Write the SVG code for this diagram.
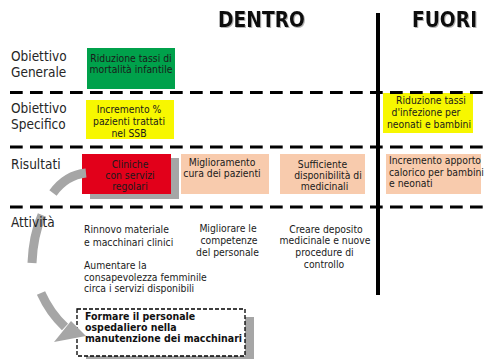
<svg xmlns="http://www.w3.org/2000/svg" width="485" height="359" viewBox="0 0 485 359">
<style>
text{font-family:'DejaVu Sans Condensed','DejaVu Sans',sans-serif;font-stretch:condensed;fill:#1a1a1a}
.t{font-size:10.3px}
.c{text-anchor:middle}
.lbl{font-size:13.5px;fill:#262626}
.hd{font-size:20.8px;font-weight:bold;fill:#111;text-anchor:middle}
.b{font-size:10.5px;font-weight:bold;fill:#111}
.dash{stroke:#000;stroke-width:3;stroke-dasharray:12.7 7.3;fill:none}
.shadow{fill:#a6a6a6}
.arc{fill:none;stroke:#a6a6a6;stroke-width:9}
.peach{fill:#f8cbad}
.yellow{fill:#f7f700}
</style>
<defs>
<filter id="ts" x="-10%" y="-20%" width="130%" height="150%">
<feDropShadow dx="1" dy="1" stdDeviation="0.6" flood-color="#808080" flood-opacity="0.6"/>
</filter>
</defs>
<rect width="485" height="359" fill="#fff"/>

<g id="headers" filter="url(#ts)">
<text class="hd" x="261.5" y="27">DENTRO</text>
<text class="hd" x="444.5" y="27">FUORI</text>
</g>

<g id="node-obiettivo-generale">
<rect x="87" y="48" width="88" height="41" fill="#00a14b"/>
<text class="t c" x="131" y="61.5">Riduzione tassi di</text>
<text class="t c" x="131" y="73">mortalità infantile</text>
</g>

<g id="node-obiettivo-specifico">
<rect class="yellow" x="86" y="100" width="88" height="39"/>
<text class="t c" x="129" y="113">Incremento %</text>
<text class="t c" x="129" y="124.8">pazienti trattati</text>
<text class="t c" x="129" y="136.6">nel SSB</text>
</g>

<g id="node-fuori-specifico">
<rect class="yellow" x="383" y="93" width="90" height="40"/>
<text class="t c" x="431" y="104.3">Riduzione tassi</text>
<text class="t c" x="426" y="116">d'infezione per</text>
<text class="t c" x="429" y="128.3">neonati e bambini</text>
</g>

<g id="node-cliniche">
<rect class="shadow" x="90" y="158" width="89" height="41"/>
<rect x="82" y="154" width="89" height="40" fill="#e2001a"/>
<text class="t c" x="130" y="168.3">Cliniche</text>
<text class="t c" x="130" y="179.3">con servizi</text>
<text class="t c" x="130" y="190.3">regolari</text>
</g>

<g id="node-miglioramento">
<rect class="peach" x="181" y="154" width="88" height="40"/>
<text class="t c" x="222" y="165.7">Miglioramento</text>
<text class="t c" x="222" y="177.3">cura dei pazienti</text>
</g>

<g id="node-sufficiente">
<rect class="peach" x="280" y="154" width="85" height="40"/>
<text class="t c" x="322.5" y="167.7">Sufficiente</text>
<text class="t c" x="328" y="179">disponibilità di</text>
<text class="t c" x="324.5" y="190.3">medicinali</text>
</g>

<g id="node-apporto">
<rect class="peach" x="386" y="154" width="95" height="40"/>
<text class="t" x="389" y="164.3">Incremento apporto</text>
<text class="t" x="389" y="175.7">calorico per bambini</text>
<text class="t" x="389" y="187.3">e neonati</text>
</g>

<g id="grid">
<line class="dash" x1="10" y1="92.5" x2="485" y2="92.5"/>
<line class="dash" x1="10" y1="147" x2="485" y2="147"/>
<line class="dash" x1="10" y1="207" x2="485" y2="207"/>
<rect x="376" y="13" width="4" height="282" fill="#000"/>
</g>

<g id="node-rinnovo">
<text class="t" x="84" y="232.5">Rinnovo materiale</text>
<text class="t" x="84" y="246">e macchinari clinici</text>
</g>

<g id="node-aumentare">
<text class="t" x="84" y="269">Aumentare la</text>
<text class="t" x="84" y="280.5">consapevolezza femminile</text>
<text class="t" x="84" y="292">circa i servizi disponibili</text>
</g>

<g id="node-migliorare">
<text class="t c" x="228" y="232.3">Migliorare le</text>
<text class="t c" x="229" y="244.3">competenze</text>
<text class="t c" x="227.5" y="256">del personale</text>
</g>

<g id="node-deposito">
<text class="t c" x="326" y="233.3">Creare deposito</text>
<text class="t c" x="325" y="244.3">medicinale e nuove</text>
<text class="t c" x="324.5" y="256">procedure di</text>
<text class="t c" x="324" y="268.3">controllo</text>
</g>

<g id="node-formare">
<rect class="shadow" x="86" y="317" width="168" height="47"/>
<rect x="77" y="309" width="168" height="47" fill="#fff" stroke="#000" stroke-width="1.3" stroke-dasharray="4 2"/>
<text class="b" x="85" y="319.5">Formare il personale</text>
<text class="b" x="85" y="330.5">ospedaliero nella</text>
<text class="b" x="85" y="341.5">manutenzione dei macchinari</text>
</g>

<g id="connectors">
<path class="arc" d="M86 173 Q66 175 53 193"/>
<path class="arc" stroke-width="8.5" d="M42 215 Q33 236 32 263"/>
<path class="arc" d="M41 293 Q50 313 65 327"/>
<polygon points="71,321 54,342 86,336" fill="#a6a6a6"/>
</g>

<g id="row-labels">
<text class="lbl" x="11" y="61">Obiettivo</text>
<text class="lbl" x="11" y="77">Generale</text>
<text class="lbl" x="11" y="113">Obiettivo</text>
<text class="lbl" x="11" y="128.5">Specifico</text>
<text class="lbl" x="11" y="169">Risultati</text>
<text class="lbl" x="11" y="227">Attività</text>
</g>
</svg>
